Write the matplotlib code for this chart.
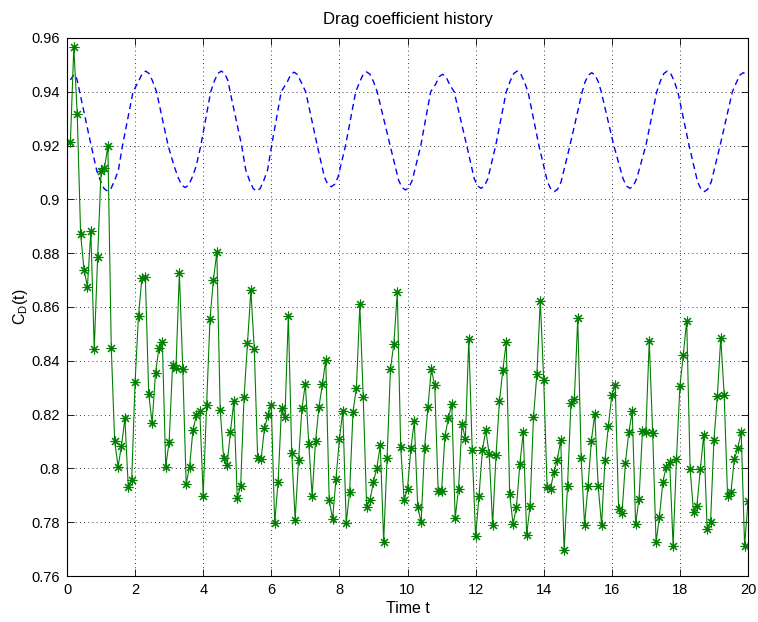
import matplotlib
matplotlib.use("Agg")
import matplotlib.pyplot as plt
from matplotlib.ticker import FuncFormatter

plt.rcParams['font.family'] = ['Liberation Sans', 'DejaVu Sans']
plt.rcParams['mathtext.fontset'] = 'custom'
plt.rcParams['mathtext.rm'] = 'Liberation Sans'

# Simulated drag coefficient, sampled every 0.1 from t = 0.1 to 20.0
time_steps = [round(0.1 * (i + 1), 1) for i in range(200)]
cd_values = [
    0.9213, 0.9565, 0.9319, 0.8871, 0.8739, 0.8676, 0.8881, 0.8444, 0.8787, 0.9104,
    0.9116, 0.9198, 0.8449, 0.8101, 0.8007, 0.8084, 0.8186, 0.7929, 0.7957, 0.8323,
    0.8568, 0.8707, 0.8713, 0.8276, 0.8168, 0.8356, 0.8447, 0.8469, 0.8007, 0.8100,
    0.8383, 0.8373, 0.8726, 0.8369, 0.7942, 0.8007, 0.8144, 0.8197, 0.8213, 0.7899,
    0.8234, 0.8557, 0.8702, 0.8803, 0.8216, 0.8038, 0.8011, 0.8136, 0.8249, 0.7889,
    0.7935, 0.8265, 0.8466, 0.8662, 0.8445, 0.8038, 0.8035, 0.8150, 0.8197, 0.8235,
    0.7796, 0.7951, 0.8224, 0.8190, 0.8568, 0.8058, 0.7810, 0.8030, 0.8223, 0.8315,
    0.8092, 0.7898, 0.8101, 0.8229, 0.8312, 0.8404, 0.7881, 0.7813, 0.7960, 0.8109,
    0.8214, 0.7796, 0.7913, 0.8211, 0.8300, 0.8610, 0.8264, 0.7858, 0.7883, 0.7950,
    0.8001, 0.8087, 0.7728, 0.8038, 0.8371, 0.8464, 0.8656, 0.8079, 0.7883, 0.7925,
    0.8075, 0.8175, 0.7858, 0.7799, 0.8074, 0.8228, 0.8369, 0.8309, 0.7917, 0.7916,
    0.8121, 0.8186, 0.8240, 0.7815, 0.7925, 0.8166, 0.8109, 0.8482, 0.8068, 0.7747,
    0.7898, 0.8068, 0.8142, 0.8053, 0.7789, 0.8051, 0.8249, 0.8367, 0.8469, 0.7904,
    0.7793, 0.7856, 0.8017, 0.8134, 0.7753, 0.7861, 0.8191, 0.8351, 0.8624, 0.8330,
    0.7930, 0.7924, 0.7987, 0.8033, 0.8105, 0.7695, 0.7935, 0.8243, 0.8258, 0.8558,
    0.8037, 0.7790, 0.7933, 0.8103, 0.8203, 0.7933, 0.7790, 0.8032, 0.8159, 0.8273,
    0.8310, 0.7849, 0.7836, 0.8020, 0.8135, 0.8212, 0.7793, 0.7887, 0.8139, 0.8137,
    0.8474, 0.8131, 0.7725, 0.7821, 0.7950, 0.8006, 0.8023, 0.7713, 0.8035, 0.8305,
    0.8423, 0.8549, 0.7997, 0.7839, 0.7862, 0.7997, 0.8126, 0.7774, 0.7801, 0.8106,
    0.8270, 0.8485, 0.8274, 0.7898, 0.7913, 0.8035, 0.8075, 0.8136, 0.7712, 0.7878,
]

# Reference (dashed) curve
ref_t = [
    0.10, 0.21, 0.29, 0.37, 0.54, 0.71,
    0.87, 0.99, 1.09, 1.19, 1.29, 1.39, 1.51, 1.63, 1.785, 1.94,
    2.11, 2.21, 2.31, 2.41, 2.51, 2.63, 2.80, 2.97,
    3.15, 3.27, 3.37, 3.47, 3.57, 3.67, 3.79, 3.93, 4.075, 4.22,
    4.33, 4.43, 4.53, 4.63, 4.73, 4.79, 4.96, 5.13,
    5.25, 5.37, 5.47, 5.57, 5.67, 5.77, 5.89, 6.01, 6.15, 6.29,
    6.47, 6.57, 6.67, 6.77, 6.87, 7.01, 7.18, 7.35,
    7.56, 7.66, 7.76, 7.86, 7.96, 8.18, 8.33, 8.48,
    8.60, 8.70, 8.80, 8.90, 9.00, 9.11, 9.30, 9.49,
    9.74, 9.84, 9.94, 10.04, 10.14, 10.39, 10.535, 10.68,
    10.83, 10.93, 11.03, 11.13, 11.23, 11.37, 11.555, 11.74,
    11.96, 12.06, 12.16, 12.26, 12.36, 12.59, 12.745, 12.90,
    13.02, 13.12, 13.22, 13.32, 13.42, 13.54, 13.70, 13.86,
    14.11, 14.21, 14.31, 14.41, 14.51, 14.77, 14.95, 15.13,
    15.21, 15.31, 15.41, 15.51, 15.61, 15.69, 15.875, 16.06,
    16.33, 16.43, 16.53, 16.63, 16.73, 17.00, 17.16, 17.32,
    17.43, 17.53, 17.63, 17.73, 17.83, 17.94, 18.105, 18.27,
    18.52, 18.62, 18.72, 18.82, 18.92, 19.18, 19.36, 19.54,
    19.66, 19.76, 19.86, 19.93, 20.00,
]
ref_v = [
    0.9444, 0.9465, 0.9448, 0.9400, 0.9300, 0.9200,
    0.9109, 0.9067, 0.9040, 0.9031, 0.9040, 0.9067, 0.9109, 0.9200, 0.9300, 0.9400,
    0.9441, 0.9468, 0.9477, 0.9468, 0.9441, 0.9400, 0.9300, 0.9200,
    0.9122, 0.9080, 0.9053, 0.9044, 0.9053, 0.9080, 0.9122, 0.9200, 0.9300, 0.9400,
    0.9441, 0.9468, 0.9477, 0.9468, 0.9441, 0.9400, 0.9300, 0.9200,
    0.9109, 0.9067, 0.9040, 0.9031, 0.9040, 0.9067, 0.9109, 0.9200, 0.9300, 0.9400,
    0.9437, 0.9464, 0.9473, 0.9464, 0.9437, 0.9400, 0.9300, 0.9200,
    0.9083, 0.9056, 0.9047, 0.9056, 0.9083, 0.9200, 0.9300, 0.9400,
    0.9438, 0.9465, 0.9474, 0.9465, 0.9438, 0.9400, 0.9300, 0.9200,
    0.9071, 0.9044, 0.9035, 0.9044, 0.9071, 0.9200, 0.9300, 0.9400,
    0.9429, 0.9456, 0.9465, 0.9456, 0.9429, 0.9400, 0.9300, 0.9200,
    0.9077, 0.9050, 0.9041, 0.9050, 0.9077, 0.9200, 0.9300, 0.9400,
    0.9441, 0.9468, 0.9477, 0.9468, 0.9441, 0.9400, 0.9300, 0.9200,
    0.9065, 0.9038, 0.9029, 0.9038, 0.9065, 0.9200, 0.9300, 0.9400,
    0.9435, 0.9462, 0.9471, 0.9462, 0.9435, 0.9400, 0.9300, 0.9200,
    0.9077, 0.9050, 0.9041, 0.9050, 0.9077, 0.9200, 0.9300, 0.9400,
    0.9441, 0.9468, 0.9477, 0.9468, 0.9441, 0.9400, 0.9300, 0.9200,
    0.9065, 0.9038, 0.9029, 0.9038, 0.9065, 0.9200, 0.9300, 0.9400,
    0.9435, 0.9462, 0.9471, 0.9466, 0.9460,
]

x_ticks = list(range(0, 21, 2))
y_ticks = [0.76, 0.78, 0.80, 0.82, 0.84, 0.86, 0.88, 0.90, 0.92, 0.94, 0.96]

fig = plt.figure(figsize=(7.58, 6.22), dpi=100)
ax = fig.add_axes([67 / 758, 1 - 576 / 622, (748 - 67) / 758, (576 - 38) / 622])

ax.plot(ref_t, ref_v, color='#0000ff', linewidth=1.0, dashes=(4.4, 3.0))
ax.plot(time_steps, cd_values, color='#008000', linewidth=0.8,
        marker=(8, 2, 0), markersize=7, markeredgewidth=0.8)

ax.set_xlim(0, 20)
ax.set_ylim(0.76, 0.96)
ax.set_xticks(x_ticks)
ax.set_yticks(y_ticks)
ax.xaxis.set_major_formatter(FuncFormatter(lambda v, p: '%g' % v))
ax.yaxis.set_major_formatter(FuncFormatter(lambda v, p: '%g' % round(v, 2)))
ax.tick_params(direction='in', top=True, right=True, length=5, width=0.6,
               labelsize=10.5, pad=5)
for s in ax.spines.values():
    s.set_linewidth(0.8)
ax.grid(True, linestyle=(0, (1, 4)), color='black', linewidth=0.6)

ax.set_title('Drag coefficient history', fontsize=12, pad=10)
ax.set_xlabel('Time t', fontsize=11.5, labelpad=3)
ax.set_ylabel(r'$\mathregular{C_D(t)}$', fontsize=11.5, labelpad=1)

fig.savefig('out.png', dpi=100)
